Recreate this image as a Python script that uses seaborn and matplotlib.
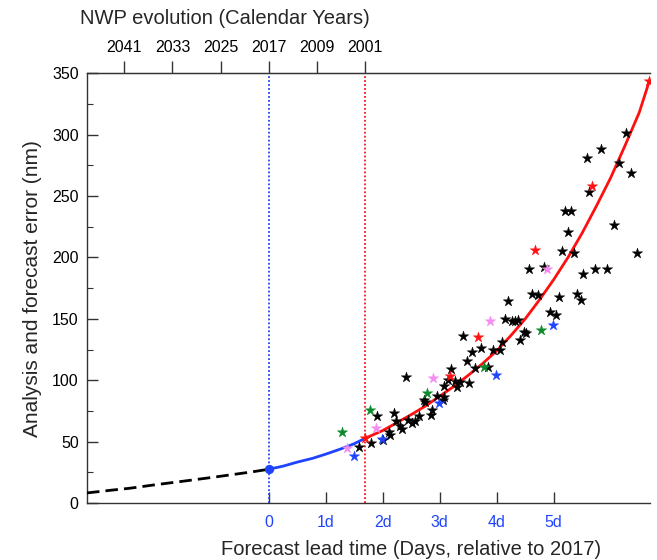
import matplotlib
matplotlib.use("Agg")
import matplotlib.pyplot as plt
import seaborn as sns
import numpy as np
import pandas as pd

# ---------------- data ----------------
# analysis-error trend (past, dashed black), lead 0 .. 2001 (blue), forecast fit (red)
past_x = [-3.19, -2.75, -2.44, -2.0, -1.56, -1.0, -0.69, -0.3, 0.0]
past_y = [8.2, 10.5, 12.0, 14.8, 17.4, 20.8, 22.8, 25.3, 27.5]
blue_x = [0.0, 0.25, 0.5, 0.77, 1.0, 1.25, 1.5, 1.69]
blue_y = [27.5, 30.0, 33.3, 36.4, 39.8, 43.8, 48.3, 52.7]
red_x = [1.69, 2.0, 2.25, 2.5, 2.75, 3.0, 3.25, 3.5, 3.75, 4.0, 4.25, 4.5,
         4.75, 5.0, 5.25, 5.5, 5.75, 6.0, 6.25, 6.5, 6.68]
red_y = [52.7, 59.0, 65.5, 72.0, 79.0, 87.0, 95.0, 104.0, 113.5, 124.0, 136.5,
         150.0, 165.5, 182.0, 200.0, 220.0, 242.0, 265.0, 291.0, 318.0, 344.0]

black_x = [1.59, 1.80, 1.90, 2.01, 2.11, 2.12, 2.20, 2.23, 2.31, 2.34, 2.41, 2.45,
           2.52, 2.56, 2.64, 2.73, 2.74, 2.84, 2.86, 2.95, 3.06, 3.08, 3.08, 3.15,
           3.20, 3.26, 3.31, 3.35, 3.41, 3.47, 3.51, 3.57, 3.62, 3.73, 3.84, 3.94,
           4.05, 4.09, 4.15, 4.20, 4.27, 4.32, 4.37, 4.41, 4.48, 4.52, 4.57, 4.62,
           4.73, 4.83, 4.93, 5.04, 5.09, 5.15, 5.20, 5.25, 5.30, 5.36, 5.41, 5.47,
           5.52, 5.58, 5.62, 5.73, 5.83, 5.94, 6.05, 6.14, 6.26, 6.36, 6.47]
black_y = [46, 48.5, 71, 51, 58, 55.5, 73, 67, 63, 60, 102.5, 67.5,
           65, 66.5, 70.5, 84, 82, 71.5, 76, 87, 84, 86, 95.5, 100,
           109.5, 99.5, 94.5, 98.5, 136, 116, 97.5, 123, 110, 126, 111, 125,
           124.5, 131, 149.5, 164.5, 148, 148, 149, 133, 139, 138.5, 190.5, 170,
           169.5, 192.5, 155.5, 153, 167.5, 205.5, 238, 220.5, 238, 204, 170, 165,
           186.5, 281, 253, 190.5, 288.5, 191, 226.5, 277, 301, 268.5, 204]
red_sx = [1.69, 3.18, 3.68, 4.68, 5.67, 6.68]
red_sy = [52.7, 103.5, 135.5, 206, 258.5, 344]
green_x = [1.28, 1.78, 2.77, 3.78, 4.78]
green_y = [57.5, 75.5, 90, 111, 141]
blue_sx = [1.49, 1.99, 2.99, 3.98, 4.99]
blue_sy = [38.5, 52, 81.5, 104, 145]
pink_x = [1.38, 1.88, 2.88, 3.88, 4.88]
pink_y = [45, 61, 101.5, 148, 190.5]

lead_ticks = [0, 1, 2, 3, 4, 5]
lead_labels = ["0", "1d", "2d", "3d", "4d", "5d"]
year_labels = ["2041", "2033", "2025", "2017", "2009", "2001"]
year_ref = 2017
x_2001 = 1.69          # lead time corresponding to year 2001
xlim = (-3.19, 6.69)
ylim = (0, 350)

# ---------------- style ----------------
sns.set_style("ticks")
plt.rcParams["font.family"] = ["Liberation Sans", "DejaVu Sans"]

fig = plt.figure(figsize=(6.57, 5.60), dpi=100)
ax = fig.add_axes([0.1324, 0.1018, 0.8570, 0.7673])

BLUE = "#1f44ff"
RED = "#ff1010"
GREEN = "#0a8a2a"
PINK = "#f58cf0"

ax.axvline(0, color=BLUE, ls=(0, (1, 1.2)), lw=1.3, zorder=1)
ax.axvline(x_2001, color=RED, ls=(0, (1, 1.2)), lw=1.3, zorder=1)

sns.lineplot(x=past_x, y=past_y, ax=ax, color="black", lw=2.0,
             linestyle=(0, (4.5, 2.2)), sort=False, zorder=3)
sns.lineplot(x=blue_x, y=blue_y, ax=ax, color=BLUE, lw=2.0, sort=False, zorder=3)
sns.lineplot(x=red_x, y=red_y, ax=ax, color=RED, lw=2.0, sort=False, zorder=3)

star = dict(marker="*", s=62, linewidth=0.3, ax=ax, zorder=4, legend=False)
sns.scatterplot(x=black_x, y=black_y, color="black", edgecolor="black", **star)
sns.scatterplot(x=green_x, y=green_y, color=GREEN, edgecolor=GREEN, **star)
sns.scatterplot(x=blue_sx, y=blue_sy, color=BLUE, edgecolor=BLUE, **star)
sns.scatterplot(x=pink_x, y=pink_y, color=PINK, edgecolor=PINK, **star)
sns.scatterplot(x=red_sx, y=red_sy, color=RED, edgecolor=RED, **star)
sns.scatterplot(x=[0.0], y=[past_y[-1]], ax=ax, color=BLUE, marker="o", s=45,
                linewidth=0, zorder=5, legend=False)

ax.set_xlim(*xlim)
ax.set_ylim(*ylim)

# spines
ax.spines["right"].set_visible(False)
for s in ["left", "bottom", "top"]:
    ax.spines[s].set_color("#333333")
    ax.spines[s].set_linewidth(1.0)

# y axis
ax.set_yticks(np.arange(0, 351, 50))
ax.set_yticks(np.arange(25, 351, 50), minor=True)
ax.tick_params(axis="y", which="major", direction="in", length=8, width=1,
               labelsize=11.5, pad=6, colors="#333333", labelcolor="black")
ax.tick_params(axis="y", which="minor", direction="in", length=4, width=0.8,
               colors="#333333")
ax.set_ylabel("Analysis and forecast error (nm)", fontsize=15, labelpad=7)

# bottom x axis
ax.set_xticks(lead_ticks)
ax.set_xticklabels(lead_labels)
ax.tick_params(axis="x", which="major", direction="in", length=8, width=1,
               labelsize=11.5, pad=9, colors="#333333", labelcolor=BLUE)
ax.set_xlabel("Forecast lead time (Days, relative to 2017)", fontsize=14.5,
              labelpad=4)
ax.xaxis.set_label_coords((2.5 - xlim[0]) / (xlim[1] - xlim[0]), -0.085)

# top axis: calendar years
def lead_to_year(x):
    return year_ref - np.asarray(x) * 16.0 / x_2001

def year_to_lead(y):
    return (year_ref - np.asarray(y)) * x_2001 / 16.0

top = ax.secondary_xaxis("top", functions=(lead_to_year, year_to_lead))
top.set_xticks([int(v) for v in year_labels])
top.set_xticklabels(year_labels)
top.tick_params(axis="x", direction="out", length=9, width=1, labelsize=11.5,
                pad=4, colors="#333333", labelcolor="black")
top.spines["top"].set_color("#333333")

fig.text(225 / 657, 1 - 19 / 560, "NWP evolution (Calendar Years)",
         fontsize=14.5, ha="center", va="center")

fig.savefig("out.png", dpi=100)
